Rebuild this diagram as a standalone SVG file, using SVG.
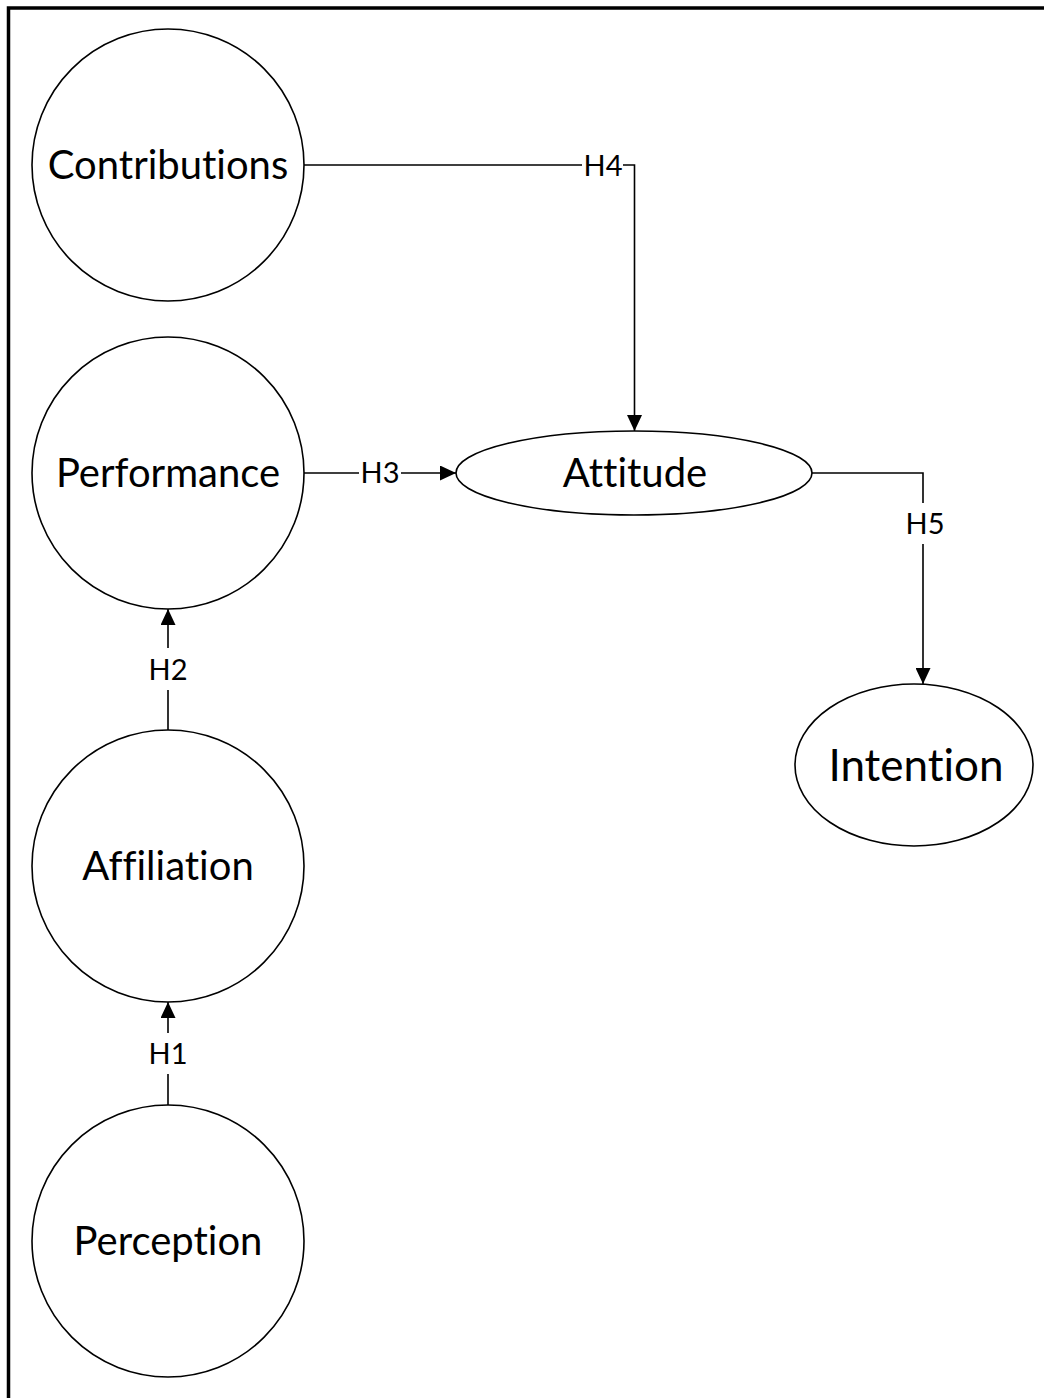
<svg xmlns="http://www.w3.org/2000/svg" width="1044" height="1398" viewBox="0 0 1044 1398">
  <style>
    text { font-variant-ligatures: none; font-feature-settings: "liga" 0, "clig" 0; }
    .node { fill: #ffffff; stroke: #000000; stroke-width: 1.6; }
    .label { font-family: Lato, "Open Sans", sans-serif; font-size: 40px; fill: #000000; text-anchor: middle; }
    .big { font-size: 44px; }
    .hyp { font-family: Lato, "Open Sans", sans-serif; font-size: 29px; fill: #000000; text-anchor: middle; }
    .edge { fill: none; stroke: #000000; stroke-width: 1.6; }
  </style>
  <defs>
    <marker id="arrow" viewBox="0 0 16 15" refX="16" refY="7.5" markerWidth="16" markerHeight="15" markerUnits="userSpaceOnUse" orient="auto">
      <path d="M0,0 L16,7.5 L0,15 Z" fill="#000000"/>
    </marker>
  </defs>

  <rect x="0" y="0" width="1044" height="1398" fill="#ffffff"/>
  <!-- outer frame, open to the right and bottom -->
  <rect x="8.5" y="8" width="1100" height="1500" fill="none" stroke="#000000" stroke-width="3.5"/>

  <g id="connectors">
    <path class="edge" d="M304,165 H582 M623,165 H634.5 V431" marker-end="url(#arrow)"/>
    <text class="hyp" x="603" y="176">H4</text>
    <path class="edge" d="M304,473 H359 M401,473 H456" marker-end="url(#arrow)"/>
    <text class="hyp" x="380" y="483">H3</text>
    <path class="edge" d="M812,473 H923 V503 M923,544 V684" marker-end="url(#arrow)"/>
    <text class="hyp" x="925" y="534">H5</text>
    <path class="edge" d="M168,730 V690 M168,648 V609" marker-end="url(#arrow)"/>
    <text class="hyp" x="168" y="680">H2</text>
    <path class="edge" d="M168,1105 V1074 M168,1033 V1002" marker-end="url(#arrow)"/>
    <text class="hyp" x="168" y="1064">H1</text>
  </g>

  <g id="contributions">
    <circle class="node" cx="168" cy="165" r="136"/>
    <text class="label" x="168" y="179">Contributions</text>
  </g>
  <g id="performance">
    <circle class="node" cx="168" cy="473" r="136"/>
    <text class="label" x="168" y="487">Performance</text>
  </g>
  <g id="affiliation">
    <circle class="node" cx="168" cy="866" r="136"/>
    <text class="label" x="168" y="880">Affiliation</text>
  </g>
  <g id="perception">
    <circle class="node" cx="168" cy="1241" r="136"/>
    <text class="label" x="168" y="1255">Perception</text>
  </g>
  <g id="attitude">
    <ellipse class="node" cx="634" cy="473" rx="178" ry="42"/>
    <text class="label" x="635" y="487">Attitude</text>
  </g>
  <g id="intention">
    <ellipse class="node" cx="914" cy="765" rx="119" ry="81"/>
    <text class="label big" x="916" y="781">Intention</text>
  </g>
</svg>
